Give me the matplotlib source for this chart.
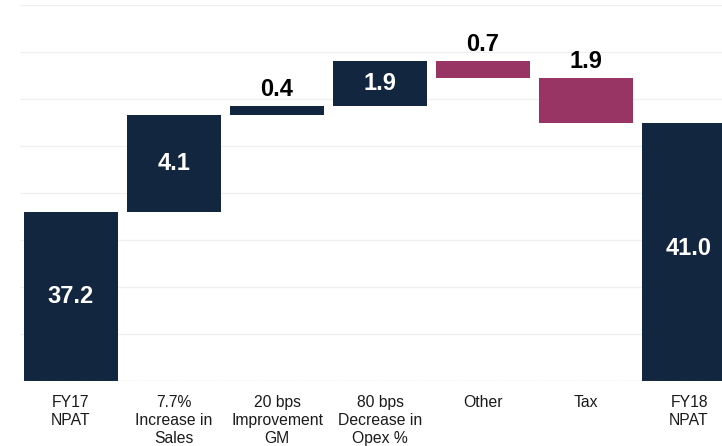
import numpy as np
import matplotlib.pyplot as plt

plt.rcParams['font.family'] = ['Liberation Sans', 'DejaVu Sans']

# data
categories = ["FY17\nNPAT", "7.7%\nIncrease in\nSales", "20 bps\nImprovement\nGM",
              "80 bps\nDecrease in\nOpex %", "Other", "Tax", "FY18\nNPAT"]
start_value = 37.2
changes = [4.1, 0.4, 1.9, -0.7, -1.9]
end_value = 41.0

navy = "#12263f"
maroon = "#993564"

fig = plt.figure(figsize=(7.22, 4.46), dpi=100)
ax = fig.add_axes([20 / 722, 65 / 446, 702 / 722, 376 / 446])

x = np.arange(len(categories))
width = 0.913

# totals
ax.bar(x[0], start_value, width=width, bottom=0, color=navy, zorder=2)
ax.bar(x[-1], end_value, width=width, bottom=0, color=navy, zorder=2)
ax.text(x[0], (30 + start_value) / 2, f"{start_value:.1f}", ha="center", va="center",
        color="white", fontsize=17, fontweight="bold", zorder=3)
ax.text(x[-1], (30 + end_value) / 2 + 0.15, f"{end_value:.1f}", ha="center", va="center",
        color="white", fontsize=17, fontweight="bold", zorder=3)

# steps
level = start_value
for i, c in enumerate(changes):
    xi = x[i + 1]
    lo = min(level, level + c)
    hi = max(level, level + c)
    col = navy if c > 0 else maroon
    ax.bar(xi, hi - lo, width=width, bottom=lo, color=col, zorder=2)
    txt = f"{abs(c):.1f}"
    if hi - lo >= 1.0 and c > 0:
        ax.text(xi, (lo + hi) / 2, txt, ha="center", va="center", color="white",
                fontsize=17, fontweight="bold", zorder=3)
    else:
        ax.text(xi, hi + 0.22, txt, ha="center", va="bottom", color="black",
                fontsize=17, fontweight="bold", zorder=3)
    level += c

ax.set_xlim(-0.495, 6.32)
ax.set_ylim(30, 46)
ax.set_yticks(np.arange(30, 47, 2))
ax.yaxis.grid(True, color="#f0f0f0", linewidth=1, zorder=0)
ax.axhline(30, color="#c8c8c8", linewidth=0.8, linestyle=(0, (2, 1)), zorder=4)
ax.tick_params(axis="y", left=False, labelleft=False)
ax.tick_params(axis="x", length=0, pad=10, labelsize=11.3)
ax.set_xticks(x)
ax.set_xticklabels(categories, linespacing=1.25, color="#1a1a1a")
for s in ax.spines.values():
    s.set_visible(False)

fig.savefig("out.png", dpi=100)
